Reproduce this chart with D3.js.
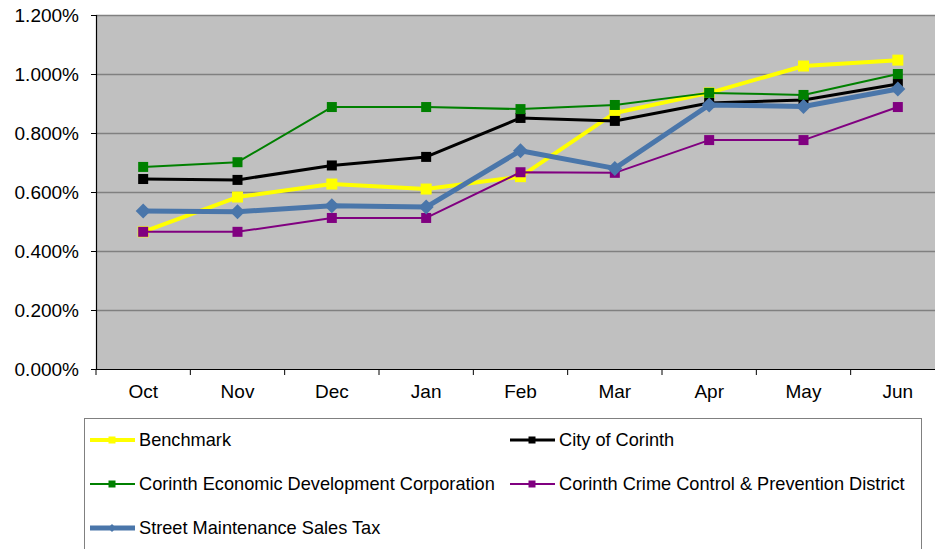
<!DOCTYPE html>
<html>
<head>
<meta charset="utf-8">
<script src="https://cdn.jsdelivr.net/npm/d3@7"></script>
<style>
  html, body { margin: 0; padding: 0; background: #fff; }
  svg { display: block; font-family: "Liberation Sans", Arial, sans-serif; }
</style>
</head>
<body>
<svg id="chart" width="935" height="549"></svg>
<script>
// Monthly yields (%), Oct through Jun
const months = ["Oct", "Nov", "Dec", "Jan", "Feb", "Mar", "Apr", "May", "Jun"];
const benchmark = [0.465, 0.583, 0.627, 0.610, 0.652, 0.868, 0.936, 1.027, 1.047];
const cityOfCorinth = [0.644, 0.641, 0.690, 0.719, 0.851, 0.841, 0.902, 0.912, 0.966];
const economicDev = [0.685, 0.701, 0.888, 0.888, 0.881, 0.895, 0.936, 0.929, 1.000];
const crimeControl = [0.465, 0.465, 0.512, 0.512, 0.667, 0.665, 0.776, 0.776, 0.888];
const streetMaint = [0.536, 0.533, 0.553, 0.549, 0.740, 0.680, 0.895, 0.890, 0.949];
const yTicks = [0, 0.2, 0.4, 0.6, 0.8, 1.0, 1.2];

const series = [
  { name: "Benchmark", values: benchmark, color: "#ffff00", width: 4, marker: "square", size: 11 },
  { name: "City of Corinth", values: cityOfCorinth, color: "#000000", width: 3, marker: "square", size: 10 },
  { name: "Corinth Economic Development Corporation", values: economicDev, color: "#008000", width: 2, marker: "square", size: 10 },
  { name: "Corinth Crime Control & Prevention District", values: crimeControl, color: "#800080", width: 2, marker: "square", size: 10 },
  { name: "Street Maintenance Sales Tax", values: streetMaint, color: "#4a76aa", width: 5, marker: "diamond", size: 15 }
];

const svg = d3.select("#chart");
const plot = { left: 96, top: 15, right: 945, bottom: 369 };

const x = d3.scaleBand().domain(months).range([plot.left, plot.right]);
const y = d3.scaleLinear().domain([0, 1.2]).range([plot.bottom, plot.top]);

// plot background
svg.append("rect")
  .attr("x", plot.left).attr("y", plot.top)
  .attr("width", plot.right - plot.left).attr("height", plot.bottom - plot.top)
  .attr("fill", "#c0c0c0");

// horizontal gridlines
svg.append("g").selectAll("line").data(yTicks.filter(d => d > 0)).join("line")
  .attr("x1", plot.left).attr("x2", plot.right)
  .attr("y1", d => Math.round(y(d)) + 0.5).attr("y2", d => Math.round(y(d)) + 0.5)
  .attr("stroke", "#808080").attr("stroke-width", 1.5);

// y axis
const yAxis = svg.append("g")
  .attr("transform", `translate(${plot.left},0)`)
  .call(d3.axisLeft(y).tickValues(yTicks).tickSize(5).tickPadding(12)
    .tickFormat(d => d3.format(".3f")(d) + "%"));
yAxis.select(".domain").attr("stroke", "#000").attr("stroke-width", 1.2);
yAxis.selectAll(".tick line").attr("stroke", "#000");
yAxis.selectAll(".tick text").attr("font-size", 19).attr("fill", "#000")
  .attr("font-family", "'Liberation Sans', Arial, sans-serif");

// x axis
const xAxis = svg.append("g")
  .attr("transform", `translate(0,${plot.bottom})`)
  .call(d3.axisBottom(x).tickSize(0).tickPadding(16));
xAxis.select(".domain").attr("stroke", "#000").attr("stroke-width", 1.2);
xAxis.selectAll(".tick text").attr("font-size", 19).attr("fill", "#000")
  .attr("font-family", "'Liberation Sans', Arial, sans-serif");
// tick marks at category boundaries
svg.append("g").selectAll("line").data(months).join("line")
  .attr("x1", d => x(d)).attr("x2", d => x(d))
  .attr("y1", plot.bottom).attr("y2", plot.bottom + 6)
  .attr("stroke", "#000");

const cx = i => x(months[i]) + x.bandwidth() / 2;

function drawMarker(g, s, px, py, size) {
  if (s.marker === "square") {
    g.append("rect")
      .attr("x", px - size / 2).attr("y", py - size / 2)
      .attr("width", size).attr("height", size)
      .attr("fill", s.color);
  } else {
    const h = size / 2;
    g.append("path")
      .attr("d", `M${px},${py - h}L${px + h},${py}L${px},${py + h}L${px - h},${py}Z`)
      .attr("fill", s.color);
  }
}

const line = d3.line().x((d, i) => cx(i)).y(d => y(d));

series.forEach(s => {
  const g = svg.append("g");
  g.append("path")
    .attr("d", line(s.values))
    .attr("fill", "none")
    .attr("stroke", s.color)
    .attr("stroke-width", s.width)
    .attr("stroke-linejoin", "round");
  s.values.forEach((v, i) => drawMarker(g, s, cx(i), y(v), s.size));
});

// legend
const legend = svg.append("g");
legend.append("rect")
  .attr("x", 84.5).attr("y", 418.5).attr("width", 837).attr("height", 160)
  .attr("fill", "#fff").attr("stroke", "#808080").attr("stroke-width", 1);

const legendPos = [
  { lx: 90, ty: 440 }, { lx: 510, ty: 440 },
  { lx: 90, ty: 484 }, { lx: 510, ty: 484 },
  { lx: 90, ty: 528 }
];
series.forEach((s, i) => {
  const p = legendPos[i];
  const g = legend.append("g");
  g.append("line")
    .attr("x1", p.lx).attr("x2", p.lx + 45)
    .attr("y1", p.ty).attr("y2", p.ty)
    .attr("stroke", s.color).attr("stroke-width", s.width);
  drawMarker(g, s, p.lx + 22, p.ty, s.marker === "diamond" ? 8 : 7);
  g.append("text")
    .attr("x", p.lx + 49).attr("y", p.ty).attr("dy", "0.35em")
    .attr("font-size", 18.2).attr("fill", "#000")
    .text(s.name);
});
</script>
</body>
</html>
